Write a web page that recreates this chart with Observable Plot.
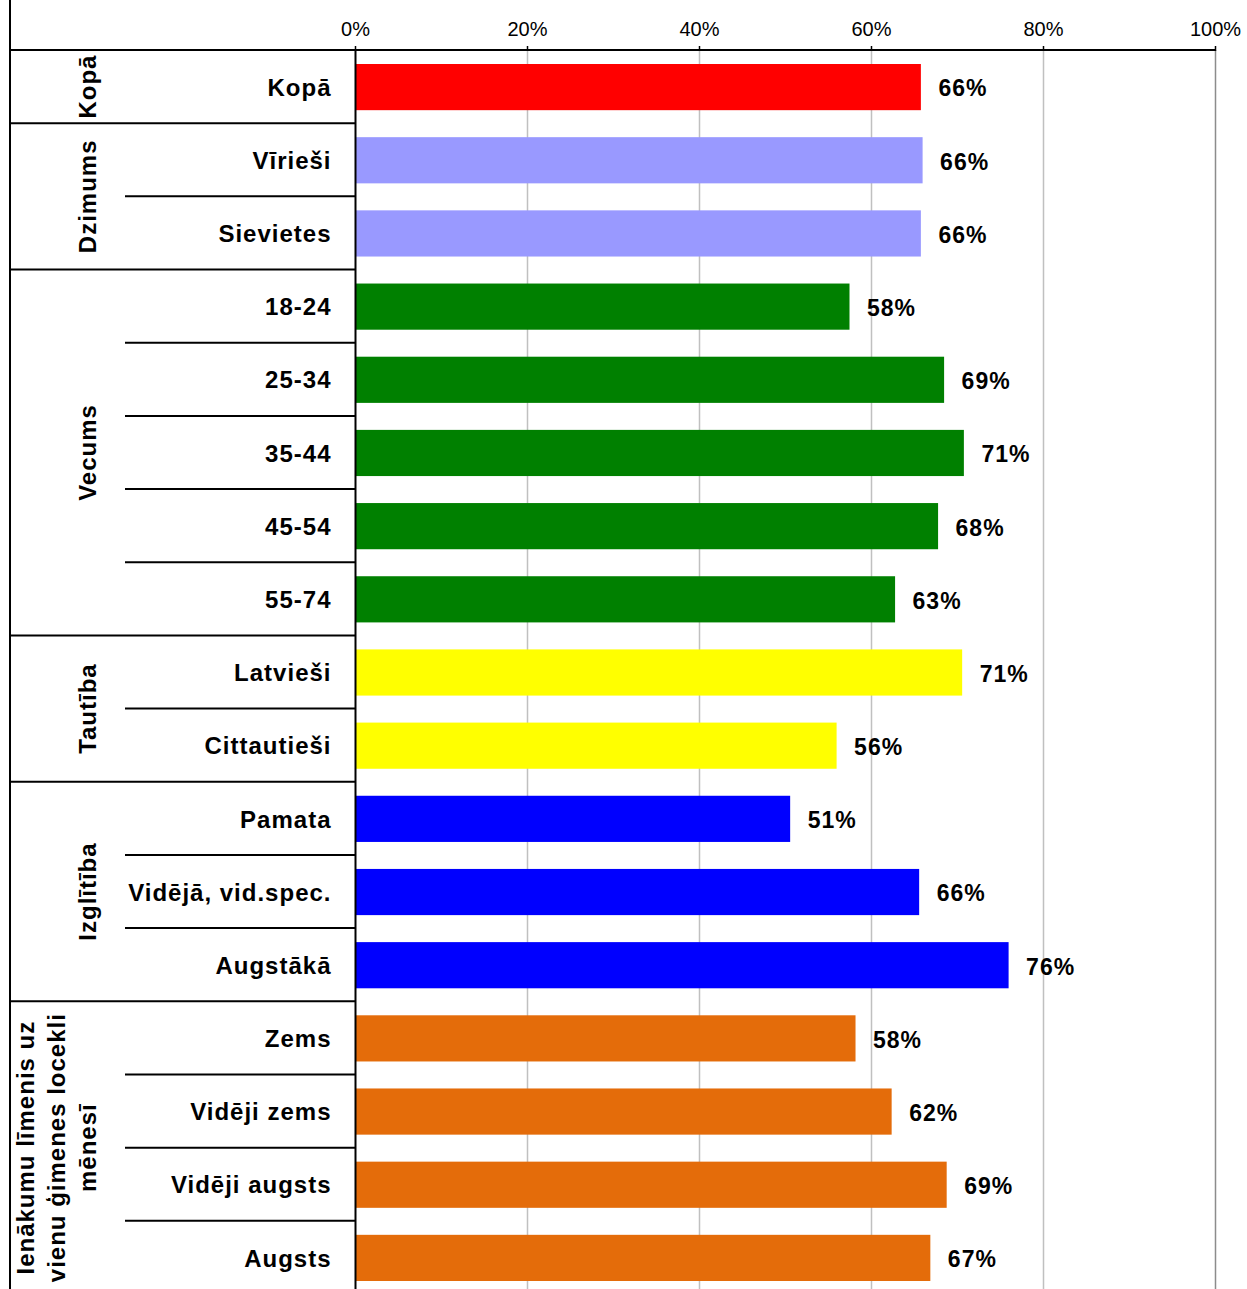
<!DOCTYPE html>
<html><head><meta charset="utf-8">
<script src="https://cdn.jsdelivr.net/npm/d3@7"></script>
<script src="https://cdn.jsdelivr.net/npm/@observablehq/plot@0.6"></script>
<style>
html,body{margin:0;padding:0;background:#fff;overflow:hidden;}
</style></head><body><div id="chart"></div>
<script>
const FONT = "'Liberation Sans', Arial, Helvetica, sans-serif";
const INCOME = "Ienākumu līmenis uz|vienu ģimenes locekli|mēnesī";

const categories = ["Kopā","Vīrieši","Sievietes","18-24","25-34","35-44","45-54","55-74","Latvieši","Cittautieši","Pamata","Vidējā, vid.spec.","Augstākā","Zems","Vidēji zems","Vidēji augsts","Augsts"];
const groups = ["Kopā","Dzimums","Dzimums","Vecums","Vecums","Vecums","Vecums","Vecums","Tautība","Tautība","Izglītība","Izglītība","Izglītība",INCOME,INCOME,INCOME,INCOME];
const values = [65.8,66.0,65.8,57.5,68.5,70.8,67.8,62.8,70.6,56.0,50.6,65.6,76.0,58.2,62.4,68.8,66.9];
const groupNames = ["Kopā","Dzimums","Vecums","Tautība","Izglītība",INCOME];
const groupColors = ["#ff0000","#9999ff","#008000","#ffff00","#0000ff","#e46c0a"];
const xTicks = [0,20,40,60,80,100];

const data = categories.map((c,i)=>({i, category:c, group:groups[i], value:values[i], color:groupColors[groupNames.indexOf(groups[i])]}));

const plot = Plot.plot({
  width: 1247, height: 1294,
  marginTop: 50, marginLeft: 355, marginRight: 32, marginBottom: 0,
  style: {fontFamily: FONT, background: "#fff", overflow: "visible", color: "#000"},
  x: {domain: [0,100], axis: null},
  y: {domain: [0, categories.length], reverse: true, axis: null},
  color: {type: "identity"},
  marks: [
    Plot.gridX(xTicks.filter(t=>t>0 && t<100), {stroke:"#c0c0c0", strokeOpacity:1, strokeWidth:1.5}),
    Plot.ruleX([100], {stroke:"#8c8c8c", strokeWidth:1.5}),
    Plot.rect(data, {x1:0, x2:"value", y1:"i", y2:d=>d.i+1, fill:"color", insetTop:14, insetBottom:13}),
    Plot.text(data, {x:"value", y:d=>d.i+0.5, text:d=>Math.round(d.value)+"%", dx:17, dy:2, textAnchor:"start", fontSize:23, fontWeight:"bold", fill:"#000"}),
    Plot.text(data, {x:0, y:d=>d.i+0.5, text:"category", dx:-24, dy:1, textAnchor:"end", fontSize:24, fontWeight:"bold", fill:"#000"}),
    Plot.axisX(xTicks, {anchor:"top", label:null, tickFormat:d=>d+"%", tickSize:5, tickPadding:10, fontSize:20, stroke:"#000", strokeWidth:1.5}),
    Plot.ruleX([0], {stroke:"#000", strokeWidth:2})
  ]
});

const svg = d3.select(plot);
svg.selectAll("g[aria-label='text'] text").attr("letter-spacing", "1px");
const xs = plot.scale("x"), ys = plot.scale("y");
const x0 = xs.apply(0), x100 = xs.apply(100);
const LEFT = 10, INNER = 125;
const g = svg.append("g").attr("stroke","#000").attr("stroke-width",2);
for (let i = 1; i < categories.length; i++) {
  const full = groups[i] !== groups[i-1];
  const y = ys.apply(i);
  g.append("line").attr("x1", full ? LEFT : INNER).attr("x2", x0).attr("y1", y).attr("y2", y);
}
g.append("line").attr("x1", LEFT).attr("x2", x100).attr("y1", ys.apply(0)).attr("y2", ys.apply(0));
g.append("line").attr("x1", LEFT).attr("x2", LEFT).attr("y1", 0).attr("y2", 1294);

const tg = svg.append("g").attr("font-family", FONT).attr("font-size", 24).attr("font-weight","bold").attr("letter-spacing","1px").attr("text-anchor","middle");
groupNames.forEach(name => {
  const idx = groups.map((gname,i)=>gname===name?i:-1).filter(i=>i>=0);
  const mid = (ys.apply(idx[0]) + ys.apply(idx[idx.length-1]+1)) / 2;
  const lines = name.split("|");
  lines.forEach((line, j) => {
    const x = 96 - (lines.length-1-j)*31;
    tg.append("text").attr("transform", `translate(${x},${mid}) rotate(-90)`).text(line);
  });
});

document.getElementById("chart").appendChild(plot);
</script>
</body></html>
